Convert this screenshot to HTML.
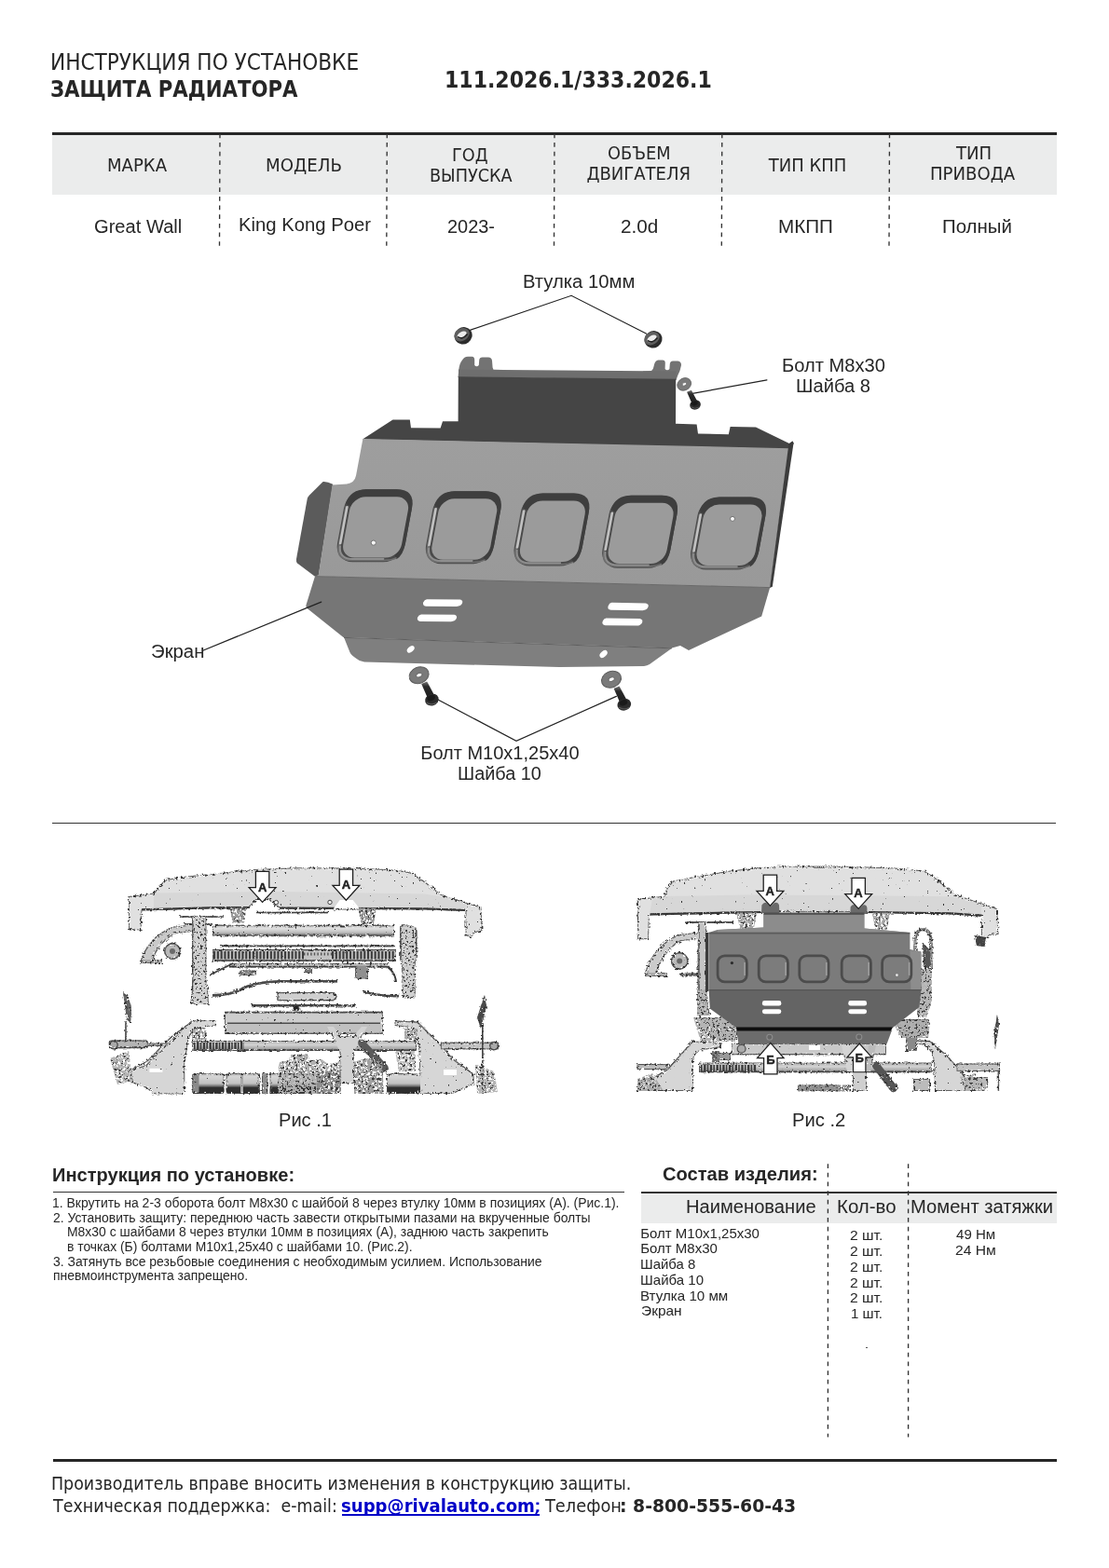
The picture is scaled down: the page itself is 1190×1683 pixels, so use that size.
<!DOCTYPE html>
<html lang="ru"><head><meta charset="utf-8"><title>Инструкция по установке — Защита радиатора 111.2026.1/333.2026.1</title>
<style>
html,body{margin:0;padding:0;background:#fff}
body{width:1190px;height:1683px;position:relative;overflow:hidden;color:#262626;font-family:"Liberation Sans","DejaVu Sans",sans-serif;will-change:transform}
.x{position:absolute;white-space:nowrap;transform-origin:0 50%;display:block;margin:0;padding:0}
.t{font-family:"DejaVu Sans Condensed","DejaVu Sans","Liberation Sans",sans-serif;font-stretch:condensed}
.a{font-family:"Liberation Sans","DejaVu Sans",sans-serif}
a.lk{text-decoration:none}
.bx{position:absolute}

svg{position:absolute;left:0;top:0;overflow:visible}
</style></head><body>
<div class="bx" style="left:56px;top:142px;width:1077.5px;height:3px;background:#262626"></div>
<div class="bx" style="left:56px;top:145px;width:1077.5px;height:64px;background:#ebecec"></div>
<div class="bx" style="left:55.5px;top:882.5px;width:1077px;height:1.6px;background:#333"></div>
<div class="bx" style="left:57px;top:1279px;width:612.5px;height:1.3px;background:#333"></div>
<div class="bx" style="left:688px;top:1279.3px;width:445.5px;height:2px;background:#333"></div>
<div class="bx" style="left:688px;top:1281.3px;width:445.5px;height:31.3px;background:#ebecec"></div>
<div class="bx" style="left:929.3px;top:1445.5px;width:1.6px;height:1.6px;background:#555"></div>
<div class="bx" style="left:56.5px;top:1565.5px;width:1077px;height:3px;background:#262626"></div>
<div class="bx" style="left:367px;top:1625px;width:211.5px;height:1.6px;background:#0000c8"></div>
<svg width="1190" height="1683" viewBox="0 0 1190 1683" class="rules"><g fill="none" stroke="#333" stroke-width="1.35" stroke-dasharray="4.75 4.9"><path d="M236,143.4 L235.5,263.8"/><path d="M415.3,143.4 L414.8,263.8"/><path d="M595,143.4 L594.5,263.8"/><path d="M774.8,143.4 L774.3,263.8"/><path d="M954.5,143.4 L954.0,263.8"/><path d="M888.4,1249.2 V1542.6"/><path d="M974.6,1249.2 V1542.6"/></g></svg>
<svg width="1190" height="1683" viewBox="0 0 1190 1683" class="ill" aria-label="Экран — схема">
<defs>
  <linearGradient id="gFace" x1="0" y1="0" x2="0" y2="1"><stop offset="0" stop-color="#9e9e9e"/><stop offset="1" stop-color="#999"/></linearGradient>
  <g id="rec">
    <rect x="-36.5" y="-39" width="73" height="78" rx="20" ry="20" fill="#4a4a4a"/>
    <path d="M-16.5,-39 H16.5 Q36.5,-39 36.5,-19 V19 Q36.5,32 30,36 L27,31 Q31.5,27 31.5,20 V-16 Q31.5,-30.5 17.5,-30.5 H-14.5 Q-26,-30.5 -28.2,-20 L-35.6,-24 Q-33,-39 -16.5,-39Z" fill="#3e3e3e"/>
    <path d="M-34.6,-21 V21 Q-34.6,37 -17,37.2 H17 Q25,37.2 30,34.6" fill="none" stroke="#6e6e6e" stroke-width="1.6"/>
    <path d="M-33.3,-20 V19" fill="none" stroke="#c2c2c2" stroke-width="2.6" stroke-linecap="round"/>
    <path d="M-33,22 Q-32,35.6 -17,35.8 H16" fill="none" stroke="#8e8e8e" stroke-width="2" stroke-linecap="round"/>
    <rect x="-30" y="-31" width="62.8" height="65.4" rx="14.5" ry="14.5" fill="#9b9b9b"/>
  </g>
  <radialGradient id="gBush" cx="0.5" cy="0.5" r="0.5"><stop offset="0.55" stop-color="#2a2a2a"/><stop offset="0.85" stop-color="#3a3a3a"/><stop offset="1" stop-color="#555"/></radialGradient>
  <linearGradient id="gShaft" x1="0" y1="0" x2="0" y2="1"><stop offset="0" stop-color="#777"/><stop offset="0.3" stop-color="#2a2a2a"/><stop offset="1" stop-color="#1c1c1c"/></linearGradient>
  <g id="wash">
    <ellipse cx="0" cy="0" rx="10.8" ry="8.6" fill="#7a7a7a" stroke="#5c5c5c" stroke-width="1" transform="rotate(-22)"/>
    <ellipse cx="0.2" cy="0" rx="3.3" ry="2.1" fill="#fafafa" stroke="#666" stroke-width="0.9" transform="rotate(-22)"/>
  </g>
  <g id="bolt">
    <path d="M2.6,9.4 L8.6,7 L16.6,22 L9.4,25Z" fill="url(#gShaft)"/>
    <ellipse cx="13.8" cy="26.6" rx="7.4" ry="6.3" fill="#2b2b2b" transform="rotate(-20 13.8 26.6)"/>
    <ellipse cx="13" cy="24.6" rx="4.4" ry="3" fill="#1a1a1a" transform="rotate(-20 13 24.6)"/>
    <path d="M8,29.4 Q13,33.2 19.4,29.6" stroke="#555" stroke-width="1.2" fill="none"/>
  </g>
  <g id="bush">
    <ellipse cx="0.3" cy="0.6" rx="9.7" ry="9" fill="#2c2c2c" transform="rotate(-35)"/>
    <ellipse cx="-0.6" cy="-1.2" rx="8.6" ry="6.6" fill="#5e5e5e" transform="rotate(-30)"/>
    <ellipse cx="-0.6" cy="-0.9" rx="5.6" ry="3.3" fill="#ececec" transform="rotate(-30)"/>
    <path d="M-5.6,1.4 Q-1,5.4 5,-1.6" stroke="#222" stroke-width="1.6" fill="none"/>
  </g>
</defs>
<!-- ears -->
<g fill="#737373">
  <path d="M491.5,405 L492.3,397 Q493,390 496,386.5 Q498,383 502,382.8 L506.5,382.8 Q509.2,383 509.2,386 L509.2,392 Q511.5,394.5 513.8,392 L514.2,386.5 Q514.5,383.4 517.5,383.4 L524,383.4 Q527.5,383.6 528,387 L528.6,394.5 L529.5,396.8 L540,397 L540,405Z"/>
  <path d="M690,398.5 L699,398 Q701,397 701.6,393 Q702.5,387.5 706,386.6 L711,386.6 Q713.8,386.8 713.8,389.5 L713.6,396 Q716,398.5 718.4,396 L718.8,390.5 Q719.3,387.4 722,387.4 L727.5,387.5 Q731.2,388 731,392 L729.5,398 Q727,403 725.5,408 L690,407Z"/>
</g>
<!-- top flange strip -->
<path d="M492,396.6 L725.6,398.6 L725.4,407.4 L492,404.8Z" fill="#6e6e6e"/>
<!-- dark upper panel + shelf -->
<path d="M491.8,404.2 L725.2,406.8 L725,454.8 L747.6,455.6 L749,465.6 L781.8,466.2 L783.6,458 L811,458.6 L847,476 L850.5,473.6 L852,476 L846,482 L389,471.6 L421.5,450.6 L439.8,450.4 L441,459.2 L472.6,459.4 L475,452.2 L491.6,452.2Z" fill="#454545"/>
<!-- left flange -->
<path d="M346.6,517 Q351,516.6 357.2,519.8 L341.8,618 L337.6,618.6 L319,604.6 Q317.6,603 318,600 L329.6,536 Q330.2,533.4 332,531.6Z" fill="#5b5b5b"/>
<!-- main face -->
<path d="M389.4,471 L846.4,481.2 L826.4,630.6 L338.4,618.6 L341.8,617 L356.6,520.6 L372,519.4 Q380.4,518.6 382,510.6Z" fill="url(#gFace)"/>
<!-- right thin edge -->
<path d="M846.4,476.4 L850.4,473.4 L851.4,476.6 L828.8,629.8 L826,631 Z" fill="#3c3c3c"/>
<!-- lower panel -->
<path d="M338,618.6 L826.2,630.4 L817.2,661.4 L739,698 L730,693 L721,695.6 L368.4,684 L329.6,653 Q327.8,651.4 328.6,649Z" fill="#767676"/>
<!-- bottom flange -->
<path d="M369.2,684.6 L721,695.8 L697,713 Q694.4,714.8 691,714.9 L600,716 L391,710.6 Q386,710.2 382.6,707 Q376.4,703 375.4,700Z" fill="#7f7f7f"/>
<path d="M369,684.4 L721,695.8" stroke="#5e5e5e" stroke-width="1" fill="none"/>
<path d="M338.2,618.6 L826.2,630.6" stroke="#6a6a6a" stroke-width="1" fill="none"/>
<!-- recesses -->
<g>
  <use href="#rec" transform="translate(402,564.2) skewX(-10.5)"/>
  <use href="#rec" transform="translate(497.2,566.3) skewX(-10.5)"/>
  <use href="#rec" transform="translate(591.8,568.5) skewX(-10.5)"/>
  <use href="#rec" transform="translate(686.5,570.7) skewX(-10.5)"/>
  <use href="#rec" transform="translate(781.4,572.5) skewX(-10.5)"/>
</g>
<circle cx="400.8" cy="582.6" r="2.6" fill="#f6f6f6" stroke="#6a6a6a" stroke-width="0.9"/>
<circle cx="786" cy="556.9" r="2.5" fill="#f6f6f6" stroke="#6a6a6a" stroke-width="0.9"/>
<!-- slots -->
<g fill="#fff">
  <path d="M458,643.2 L493.6,643.6 Q497.2,644.4 496,647.6 Q494.4,650.8 490,651 L457,650.8 Q453,650 454.2,646.6 Q455.4,643.6 458,643.2Z"/>
  <path d="M452,659.4 L487.4,659.8 Q491,660.6 489.8,663.8 Q488.2,667 484,667.2 L451,667 Q447,666.2 448,662.8 Q449.4,659.8 452,659.4Z"/>
  <path d="M656.4,646.8 L693,647.6 Q696.8,648.6 695.4,651.8 Q693.8,655 689.6,655.2 L655.6,654.8 Q651.4,654 652.6,650.4 Q653.8,647.2 656.4,646.8Z"/>
  <path d="M650.4,663.4 L686.6,664 Q690.4,665 689,668.4 Q687.4,671.4 683.2,671.6 L649.6,671.2 Q645.4,670.4 646.6,667 Q647.8,663.8 650.4,663.4Z"/>
  <ellipse cx="440.7" cy="696.9" rx="4.6" ry="2.9" transform="rotate(-42 440.7 696.9)"/>
  <ellipse cx="647.6" cy="702" rx="4.8" ry="3" transform="rotate(-42 647.6 702)"/>
</g>
<!-- callout lines -->
<g stroke="#222" stroke-width="1.2" fill="none" stroke-linecap="round">
  <path d="M504.3,354.4 L613.1,317.3 L693.8,358.2"/>
  <path d="M741.6,422.6 L822.9,407.9"/>
  <path d="M217.7,698.2 L344.7,646.1"/>
  <path d="M458.6,745 L554,795.3 L661.4,747.4"/>
</g>
<!-- bushings -->
<use href="#bush" transform="translate(496.6,360)"/>
<use href="#bush" transform="translate(700.5,364)"/>
<!-- washers & bolts -->
<g transform="translate(734.2,412.4) scale(0.72)"><use href="#wash" transform="scale(0.98,1.06)"/></g>
<use href="#bolt" transform="translate(735,413.2) scale(0.8)"/>
<use href="#wash" transform="translate(449.6,724.7)"/>
<use href="#bolt" transform="translate(449.6,724.5)"/>
<use href="#wash" transform="translate(656,729.2)"/>
<use href="#bolt" transform="translate(656,729.6)"/>
</svg>

<svg width="1190" height="1683" viewBox="0 0 1190 1683" class="ill" aria-label="Рис. 1">
<defs>
  <filter id="grain" x="100" y="920" width="1000" height="270" filterUnits="userSpaceOnUse" color-interpolation-filters="sRGB">
    <feTurbulence type="fractalNoise" baseFrequency="0.36" numOctaves="2" seed="7" result="n"/>
    <feColorMatrix in="n" type="matrix" values="0 0 0 0 0  0 0 0 0 0  0 0 0 0 0  22 0 0 0 -16.6" result="mS"/>
    <feColorMatrix in="n" type="matrix" values="0 0 0 0 0  0 0 0 0 0  0 0 0 0 0  0 18 0 0 -10.8" result="mD"/>
    <feColorMatrix in="n" type="matrix" values="0 0 0 0 0  0 0 0 0 0  0 0 0 0 0  0 0 -18 0 7.0" result="mH"/>
    <feColorMatrix in="n" type="matrix" values="0 0 0 0 0  0 0 0 0 0  0 0 0 0 0  -9 -9 0 0 9.4" result="mE"/>
    <feMorphology in="SourceAlpha" operator="dilate" radius="1.2" result="fat"/>
    <feMorphology in="SourceAlpha" operator="erode" radius="1.8" result="thin"/>
    <feMorphology in="SourceAlpha" operator="erode" radius="0.9" result="thin1"/>
    <feComposite in="fat" in2="thin" operator="out" result="band"/>
    <feComposite in="SourceAlpha" in2="thin1" operator="out" result="edge"/>
    <feFlood flood-color="#333" result="dk"/>
    <feFlood flood-color="#4a4a4a" flood-opacity="0.85" result="dk2"/>
    <feComposite in="dk" in2="mS" operator="in" result="d0"/>
    <feComposite in="d0" in2="SourceAlpha" operator="in" result="dotsA"/>
    <feComposite in="dk" in2="mD" operator="in" result="d1"/>
    <feComposite in="d1" in2="band" operator="in" result="dotsB"/>
    <feComposite in="dk2" in2="mE" operator="in" result="e1"/>
    <feComposite in="e1" in2="edge" operator="in" result="dotsE"/>
    <feComposite in="mH" in2="band" operator="in" result="hm"/>
    <feComposite in="SourceGraphic" in2="hm" operator="out" result="holed"/>
    <feMerge><feMergeNode in="holed"/><feMergeNode in="dotsE"/><feMergeNode in="dotsA"/><feMergeNode in="dotsB"/></feMerge>
  </filter>
  <filter id="grain2" x="100" y="920" width="1000" height="270" filterUnits="userSpaceOnUse" color-interpolation-filters="sRGB">
    <feTurbulence type="fractalNoise" baseFrequency="0.4" numOctaves="2" seed="23" result="n"/>
    <feColorMatrix in="n" type="matrix" values="0 0 0 0 0  0 0 0 0 0  0 0 0 0 0  0 16 0 0 -9.7" result="mD"/>
    <feColorMatrix in="n" type="matrix" values="0 0 0 0 0  0 0 0 0 0  0 0 0 0 0  0 0 -16 0 7.4" result="mH"/>
    <feFlood flood-color="#3a3a3a" result="dk"/>
    <feComposite in="dk" in2="mD" operator="in" result="d1"/>
    <feComposite in="d1" in2="SourceAlpha" operator="in" result="dots"/>
    <feComposite in="SourceGraphic" in2="mH" operator="out" result="holed"/>
    <feMerge><feMergeNode in="holed"/><feMergeNode in="dots"/></feMerge>
  </filter>
  <linearGradient id="cyl" x1="0" y1="0" x2="0" y2="1"><stop offset="0" stop-color="#c4c4c4"/><stop offset="0.3" stop-color="#e0e0e0"/><stop offset="0.7" stop-color="#bcbcbc"/><stop offset="0.86" stop-color="#8a8a8a"/><stop offset="1" stop-color="#3c3c3c"/></linearGradient>
  <linearGradient id="cylb" x1="0" y1="0" x2="0" y2="1"><stop offset="0" stop-color="#9a9a9a"/><stop offset="0.14" stop-color="#d6d6d6"/><stop offset="0.5" stop-color="#c2c2c2"/><stop offset="0.62" stop-color="#777"/><stop offset="0.7" stop-color="#303030"/><stop offset="1" stop-color="#2c2c2c"/></linearGradient>
  <linearGradient id="rod" x1="0" y1="0" x2="0" y2="1"><stop offset="0" stop-color="#aaa"/><stop offset="0.4" stop-color="#d4d4d4"/><stop offset="0.8" stop-color="#a4a4a4"/><stop offset="1" stop-color="#555"/></linearGradient>
  <g id="arrD">
    <path d="M-7.2,-16.6 H7.2 V0.6 H14.4 L0,16.4 L-14.4,0.6 H-7.2Z" fill="#fff" stroke="#1e1e1e" stroke-width="1.3" stroke-linejoin="miter"/>
  </g>
</defs>
<g filter="url(#grain)">
  <!-- bumper -->
  <path d="M138,962 L150,960.5 L165,958.5 L171,950 L178,944 L200,940.5 L240,936.5 L272,933 L320,931.2 L380,931.6 L425,933.5 L441,936.5 L455,945.5 L473,959.5 L485,964 L500,968.5 L516.5,973.5 L517.5,999 L509,1001.5 L506,1006 L499.5,1005 L499.5,977 L455,975.2 L300,974.6 L295,972 L289,966 L275,966 L268,973.5 L225,974 L165,975.5 L152.5,977 L151.5,999 L138,997 Z" fill="#e0e0e0"/>
  <path d="M165,958.5 L300,957 L455,959.5 L485,964 L500,968.5 L499.5,977 L455,975.2 L300,974.6 L295,972 L289,966 L275,966 L268,973.5 L225,974 L165,975.5Z" fill="#d7d7d7"/>
  <path d="M152,976.4 L225,974.4 L268,974 M300,974.6 L455,975.4 L499,977" stroke="#333" stroke-width="2.2" fill="none"/>
  <path d="M357,976.4 L364.6,966 L378.6,966 L387,976.4Z" fill="#fff"/>
  <circle cx="296.4" cy="968.6" r="2.2" fill="#eee" stroke="#444" stroke-width="1"/>
  <circle cx="354" cy="968.4" r="2.2" fill="#eee" stroke="#444" stroke-width="1"/>
  <!-- mounts under bumper -->
  <path d="M275,979.6 H352" stroke="#3c3c3c" stroke-width="1.5"/>
  <path d="M193,984 H240" stroke="#555" stroke-width="1.6"/>
  <!-- pipe -->
  <rect x="228" y="993.4" width="195" height="11" fill="url(#cyl)"/><path d="M232,993.4 H423 M236,1004.6 H420" stroke="#666" stroke-width="1.1" stroke-dasharray="9 4 3 5" fill="none"/>
  <path d="M198,992 H228" stroke="#666" stroke-width="2"/>
  <!-- brackets -->
  <path d="M206,984 H221 V1050 L223,1062 L224,1078 H204 L206,1062Z" fill="#cdcdcd"/>
  <path d="M207,986 V1076 M220.6,986 V1050" stroke="#555" stroke-width="1.4" fill="none"/>
  <path d="M429,994 Q438,990 447,996 V1024 L445,1040 L446,1070 H432 L431,1040Z" fill="#c4c4c4"/>
  <path d="M430,996 V1030 M446.6,998 V1024" stroke="#4a4a4a" stroke-width="1.6" fill="none"/>
  <!-- left curved arm -->
  <path d="M151,1030 Q160,1004 186,994.5 L206,992.5 L206,1000 L189,1002 Q171,1010 163,1033Z" fill="#c9c9c9"/>
  <path d="M151,1030 H174 V1034 H151Z" fill="#aaa"/>
  <circle cx="185" cy="1021" r="8.2" fill="#b9b9b9" stroke="#666" stroke-width="1.4"/>
  <circle cx="185" cy="1021" r="3" fill="#6a6a6a"/>
  <!-- radiator label band -->
  <path d="M236,1015.4 H424" stroke="#4a4a4a" stroke-width="1.6"/>
  <rect x="228" y="1019.4" width="197" height="11.6" fill="#c4c4c4"/><path d="M229,1025.2 H326 M356,1025.2 H424" stroke="#3c3c3c" stroke-width="8.6" stroke-dasharray="2.1 1.7" fill="none"/><path d="M326,1024 H356" stroke="#555" stroke-width="3" stroke-dasharray="1.4 2.2" fill="none"/>
  <path d="M228,1019.6 H425 M228,1031 H425" stroke="#444" stroke-width="1.3" fill="none"/>
  <rect x="246" y="1034" width="170" height="3.6" fill="#c2c2c2"/>
  <path d="M246,1037.6 H418" stroke="#3c3c3c" stroke-width="1.6"/>
  <rect x="257" y="1041.6" width="18" height="5.4" rx="2" fill="#8a8a8a"/><rect x="327" y="1039" width="8" height="5" fill="#777"/>
  <rect x="381" y="1037" width="14" height="14" rx="3" fill="#909090"/>
  <path d="M226,1046 L250,1034" stroke="#444" stroke-width="1.6"/>
  <path d="M416,1038 Q424,1044 425,1054" stroke="#333" stroke-width="1.8" fill="none"/>
  <!-- hoses -->
  <path d="M228,1068.4 Q250,1068 260,1061 Q272,1054.5 300,1053.2 H362" stroke="#4a4a4a" stroke-width="2.6" fill="none"/>
  <path d="M298,1065.6 H358 Q364,1069.6 358,1073.6 H298Z" fill="#cfcfcf" stroke="#666" stroke-width="1.2"/>
  <path d="M270,1079.2 H382" stroke="#4a4a4a" stroke-width="2.4"/><ellipse cx="318" cy="1082.4" rx="3.4" ry="2.8" fill="#222"/>
  <path d="M390,1064.4 Q410,1070 428,1069" stroke="#4a4a4a" stroke-width="2.4" fill="none"/>
  <!-- crossmember -->
  <rect x="241" y="1086" width="170" height="23.4" fill="#cdcdcd"/>
  <path d="M241,1086.6 H411 M244,1098.4 H408 M241,1109 H411" stroke="#4c4c4c" stroke-width="1.6" fill="none"/>
  <rect x="243" y="1099" width="166" height="9.6" fill="#c0c0c0"/>
  <!-- lower arms -->
  <path d="M140.4,1148.4 L156.6,1143 L164.2,1134.2 L178,1121.6 L205.8,1095.2 L231,1095 L232.3,1100.4 L212,1103.6 Q204,1108 202,1117.8 L198.2,1143 L198.4,1174.4 L164.2,1174.2 Q158,1167.6 151.6,1165.8 L140.4,1162Z" fill="#d6d6d6"/>
  <path d="M423.5,1096 L448,1097.2 L467.8,1116.6 L486.4,1137 L508.6,1153.6 L508.6,1163 L486.4,1174 L451.2,1174 L449.4,1127.6 Q448,1108 440,1103 L423.5,1101Z" fill="#d6d6d6"/>
  <path d="M141.5,1148 L158,1139 L184,1113 L206,1096.4 M423.5,1096 L448,1097.2 L467.8,1116.6 L486.4,1137 L508.6,1153.6" stroke="#777" stroke-width="1.2" fill="none"/>
  <rect x="160.4" y="1146.8" width="14" height="4" fill="#fff"/>
  <rect x="476" y="1148" width="14" height="6" fill="#fff"/>
  <!-- rods -->
  <rect x="206" y="1117" width="241" height="10.8" fill="url(#rod)"/><path d="M208,1122.6 H262" stroke="#3a3a3a" stroke-width="7" stroke-dasharray="1.6 1.5 2.4 1.2" fill="none"/><path d="M208,1127.2 H446" stroke="#444" stroke-width="1.6" stroke-dasharray="14 3 6 2" fill="none"/>
  <rect x="117.4" y="1117" width="41" height="7.6" rx="2" fill="#b4b4b4" stroke="#555" stroke-width="1.2"/><rect x="158" y="1119.6" width="22" height="3.4" fill="#999"/>
  <circle cx="122" cy="1121.6" r="4.2" fill="#aaa" stroke="#444" stroke-width="1.2"/>
  <rect x="473.4" y="1119.2" width="61" height="6.6" fill="#c4c4c4" stroke="#666" stroke-width="1"/>
  <circle cx="530" cy="1122.6" r="4.2" fill="#aaa" stroke="#444" stroke-width="1.2"/>
  <!-- mid bracket + hose -->
  <path d="M351,1102 L358,1102 L365,1112 H379.4 L388,1102 L394,1102 L380,1128 V1163 H364.4 V1128Z" fill="#d2d2d2"/>
  <path d="M388.4,1120 L412.4,1146" stroke="#5a5a5a" stroke-width="8" stroke-linecap="round"/>
  <!-- bottom row -->
  <rect x="206.5" y="1152" width="34" height="22" rx="3" fill="url(#cylb)"/>
  <rect x="206.5" y="1153" width="7" height="20" fill="#8a8a8a"/>
  <rect x="242.6" y="1152" width="36" height="22" rx="3" fill="url(#cylb)"/>
  <rect x="258" y="1154" width="3" height="19" fill="#aaa"/>
  <rect x="281" y="1152" width="6.4" height="22" fill="#909090"/>
  <rect x="289.6" y="1152" width="52" height="22" fill="url(#cylb)"/>
  <rect x="415" y="1152" width="36" height="22" rx="3" fill="url(#cylb)"/>
  <!-- sides -->
  <path d="M132,1065 Q140,1070 141,1084 L140,1098 L136,1094 Z" fill="#666"/>
  <path d="M135,1096 V1116" stroke="#555" stroke-width="1.4"/>
  <path d="M520,1068 L522,1080 L516,1104 L512,1092Z" fill="#4a4a4a"/>
  <path d="M517.8,1098 V1174" stroke="#444" stroke-width="1.6"/>
</g>
<g filter="url(#grain2)">
  <path d="M298,1150 L300,1140 L310,1138 L312,1132 L330,1131 L332,1138 L345,1137 L352,1142 L364,1140 V1174 H298Z" fill="#b0b0b0"/>
  <path d="M380,1140 L392,1136 L410,1140 L412,1174 H380Z" fill="#a0a0a0"/>
  <path d="M340,1150 H366 V1174 H340Z" fill="#8c8c8c"/>
  <path d="M246.6,974.6 H264.4 L262,990.6 H249.6Z" fill="#9a9a9a"/>
  <path d="M384.4,974.6 H404 L401,992 H388Z" fill="#9a9a9a"/>
  <path d="M207.4,984 H220.6 V1046 L222,1060 L222,1076 H206 L207.4,1060Z" fill="#d0d0d0"/>
  <path d="M430.4,996 Q438,991 446,996 V1024 L444.4,1040 L445.6,1072 H433 L432,1040Z" fill="#d0d0d0"/>
  <path d="M118,1136 L138,1128 L142,1160 L126,1164Z" fill="#b4b4b4"/>
  <path d="M510,1142 L530,1150 L534,1172 L512,1174Z" fill="#b4b4b4"/>
  <path d="M434,1104 H448 V1116 H434Z M206,1104 H222 V1116 H206Z" fill="#aaa"/>
  <path d="M424,1128 H446 V1150 H428Z" fill="#bdbdbd"/>
</g>
<!-- arrows -->
<use href="#arrD" transform="translate(281.6,952)"/>
<use href="#arrD" transform="translate(371.4,949.8)"/>
<text x="281.6" y="957.4" text-anchor="middle" font-family="'Liberation Sans','DejaVu Sans',sans-serif" font-weight="700" font-size="13" fill="#222" stroke="#222" stroke-width="0.45">А</text>
<text x="371.4" y="954.4" text-anchor="middle" font-family="'Liberation Sans','DejaVu Sans',sans-serif" font-weight="700" font-size="13" fill="#222" stroke="#222" stroke-width="0.45">А</text>
</svg>

<svg width="1190" height="1683" viewBox="0 0 1190 1683" class="ill" aria-label="Рис. 2">
<defs>
  <g id="arrU">
    <path d="M-7.2,16.8 H7.2 V-0.4 H14.2 L0,-16.6 L-14.2,-0.4 H-7.2Z" fill="#fff" stroke="#1e1e1e" stroke-width="1.3" stroke-linejoin="miter"/>
  </g>
  <g id="rc2">
    <rect x="-15.6" y="-14" width="31.2" height="28" rx="7.5" ry="7.5" fill="#7c7c7c" stroke="#4c4c4c" stroke-width="2.8"/><path d="M13.4,-7 V7" stroke="#a4a4a4" stroke-width="1.4" fill="none"/>
  </g>
</defs>
<g filter="url(#grain)">
  <!-- bumper -->
  <path d="M684,965.5 L700,963 L712,962 L716,952 L722,945.5 L745,941 L780,935 L810,931.5 L836,929.8 L900,929.6 L960,931.5 L992,934.4 L1005,943 L1023,958.4 L1040,965 L1070,975 L1071.6,1003 L1062,1004 L1060,1007 L1053,1006 L1053,982.4 L1020,980 L960,979 L940,979.2 L936,978.6 L912,978.6 L836,978.6 L812,978.6 L780,979.4 L720,980.4 L697,981.6 L696,1008 L684,1008.4 Z" fill="#e0e0e0"/>
  <path d="M712,962 L800,960.6 L900,961 L1000,962 L1023,962.4 L1040,966.5 L1053,971 L1053,982.4 L1020,980 L960,979 L812,978.6 L780,979.4 L720,980.4 L697,981.6 L700,964Z" fill="#d7d7d7"/>
  <path d="M697,981.4 L780,979.6 L818,979 M930,979 L1020,980.4 L1053,982.6" stroke="#333" stroke-width="2.2" fill="none"/>
  <!-- mounts -->
  <path d="M735,990 H786" stroke="#555" stroke-width="1.8"/>
  <!-- left bracket + arm -->
  <path d="M749,990 H758 V1070 L762,1090 H748Z" fill="#c4c4c4"/>
  <path d="M750,992 V1088" stroke="#555" stroke-width="1.4"/>
  <path d="M692,1043 Q702,1014 728,1003 L750,1000.6 L750,1008 L731,1010 Q712,1020 704,1046Z" fill="#cbcbcb"/>
  <path d="M692,1044 H716 V1048 H692Z" fill="#aaa"/>
  <circle cx="729.2" cy="1031.4" r="8.6" fill="#b9b9b9" stroke="#666" stroke-width="1.4"/>
  <circle cx="729.2" cy="1031.4" r="3" fill="#6a6a6a"/>
  <path d="M730,1046 H752" stroke="#777" stroke-width="3"/>
  <!-- right ring bracket -->
  <path d="M982,1040 V1008 Q983,997.6 990.4,997.6 Q998.6,998 999,1010 V1040" fill="none" stroke="#9a9a9a" stroke-width="3.2"/>
  <path d="M990,1012 L998,1020 L999,1042 L991,1036Z" fill="#555"/>
  <path d="M988,1040 H999 V1075 L992,1090 H984Z" fill="#bdbdbd"/>
  <path d="M1046,1004 L1058,1006 L1056,1016 L1048,1015Z" fill="#444"/>
  <!-- lower arms -->
  <path d="M744,1117.4 L773.5,1119 L773.5,1124.2 L751.4,1127.6 Q745,1131 744,1138.8 L744,1171 L684,1171 L684,1161 L688.6,1159 L703.4,1155.4 L716.2,1148 L731,1131.4Z" fill="#d6d6d6"/>
  <path d="M684,1142.6 H716 V1147.6 H684Z" fill="#bdbdbd" stroke="#666" stroke-width="1"/>
  <path d="M975.4,1116.6 L997.6,1117.6 L1016,1133.2 L1030.8,1149.8 L1043.8,1168.4 L1045.6,1171 L1003,1171 L1002.2,1142.4 Q1001,1131 997.6,1127.6 Q994,1122 988.4,1121.2 L975.4,1120.4Z" fill="#d6d6d6"/>
  <path d="M975.4,1116.6 L997.6,1117.6 L1016,1133.2 L1030.8,1149.8 L1043.8,1168.4 M744,1117.4 L731,1131.4 L716.2,1148 L703.4,1155.4" stroke="#777" stroke-width="1.2" fill="none"/>
  <path d="M760,1106 H790 V1116 H764Z" fill="#aaa"/>
  <path d="M748,1092 H786 L790,1104 H750Z" fill="#b4b4b4"/>
  <path d="M960,1094 H996 L994,1112 H968Z" fill="#a8a8a8"/>
  <path d="M972,1112 H984 V1128 H972Z" fill="#8a8a8a"/>
  <!-- crossmember under plate -->
  <rect x="785" y="1120" width="166" height="11.4" fill="#c9c9c9"/>
  <circle cx="795.6" cy="1125.8" r="4.4" fill="#aaa" stroke="#555" stroke-width="1.3"/>
  <rect x="868" y="1122" width="12" height="5" fill="#fff"/>
  <path d="M785,1131.6 H951" stroke="#777" stroke-width="1.2"/>
  <path d="M762,1130 H784 V1138 H768Z" fill="#999"/>
  <!-- rod -->
  <rect x="750" y="1140.6" width="250" height="10.4" fill="url(#rod)"/><path d="M752,1146.6 H812" stroke="#3a3a3a" stroke-width="7" stroke-dasharray="1.6 1.5 2.4 1.2" fill="none"/><path d="M752,1150.4 H998" stroke="#444" stroke-width="1.6" stroke-dasharray="14 3 6 2" fill="none"/>
  <rect x="1027" y="1142" width="45.4" height="7.4" fill="#c4c4c4" stroke="#666" stroke-width="1"/>
  <path d="M940.3,1144 L958.7,1168" stroke="#555" stroke-width="8.4" stroke-linecap="round"/>
  <rect x="915" y="1151" width="15" height="20" fill="#cfcfcf"/>
  <path d="M903,1122 L912,1122 L917,1150 L909,1150Z" fill="#d4d4d4"/>
  <path d="M940,1122 L932,1122 L928,1150 L934,1150Z" fill="#bbb"/>
  <rect x="856" y="1164.4" width="44" height="6.6" fill="#999"/>
  <rect x="980" y="1158" width="18" height="13" fill="#bbb"/>
  <rect x="1040" y="1156" width="20" height="12" fill="#bbb"/>
  <path d="M1070,1089 L1072,1100 L1068,1126 L1066.6,1110Z" fill="#555"/>
  <path d="M1071.4,1150 V1171" stroke="#666" stroke-width="1.4"/>
</g>
<g filter="url(#grain2)">
  <path d="M790,979.6 H812 L808.6,998.6 H794.6Z" fill="#a8a8a8"/>
  <path d="M935.6,979.6 H955 L951.6,998 H939.6Z" fill="#a8a8a8"/>
  <path d="M749,1062 H759 L760,1090 H748Z" fill="#b0b0b0"/>
  <path d="M744,1092 H790 L796,1106 L788,1118 H752Z" fill="#b4b4b4"/>
  <path d="M958,1096 H998 L996,1114 H966Z" fill="#b0b0b0"/>
  <path d="M856.4,1164.6 H913 V1171.4 H856.4Z" fill="#909090"/>
  <path d="M684,1158 L700,1152 L712,1171 H684Z" fill="#aaa"/><path d="M1030,1156 L1046,1152 L1060,1171 H1036Z" fill="#b4b4b4"/><path d="M764,1128 H772 V1140 H764Z" fill="#777"/>
  <path d="M984,1040 H1000 V1074 L994,1092 H985Z" fill="#b4b4b4"/>
</g>
<!-- plate -->
<g>
  <path d="M817,980 L817.4,971.6 Q820,967.6 823,969.4 L826.6,973 L831,969 Q835,967.6 836,971.6 L836.4,980Z" fill="#6a6a6a"/>
  <path d="M912.4,981 L912.6,973.6 Q915,970 918,971.6 L921.6,975.6 L926,971.6 Q929.6,970 930.4,974 L930.6,981Z" fill="#6a6a6a"/>
  <path d="M819.4,980.4 H927.4 V996.4 L973.6,1000.8 L976.4,1001.4 V1019 L988.4,1021.4 V1063 H760.6 V1001 L769.8,998 L819.4,995.4Z" fill="#7b7b7b"/>
  <path d="M819.4,981.6 H927.4 V996.4 L940,997.6 L973.6,1000.8 H769.8 V998 L819.4,995.4Z" fill="#8c8c8c"/>
  <path d="M819.4,980.6 H927.4" stroke="#4e4e4e" stroke-width="2.4"/>
  <path d="M760.6,1001.6 H976.4" stroke="#5c5c5c" stroke-width="1.6"/>
  <path d="M976.4,1020 L988.4,1021.6 V1063 H977.4Z" fill="#8d8d8d"/>
  <path d="M758.6,1001 V1064" stroke="#3c3c3c" stroke-width="3.4"/>
  <use href="#rc2" transform="translate(785.7,1039.9)"/>
  <use href="#rc2" transform="translate(829.8,1039.9)"/>
  <use href="#rc2" transform="translate(873.4,1039.9)"/>
  <use href="#rc2" transform="translate(918.8,1039.9)"/>
  <use href="#rc2" transform="translate(962.2,1039.9)"/>
  <circle cx="785.4" cy="1033.6" r="1.6" fill="#2a2a2a"/>
  <circle cx="962.4" cy="1046.6" r="1.3" fill="#eee"/>
  <path d="M760.6,1062.6 H988.4 L986.4,1081 L958,1103 H790 L761.8,1082.6Z" fill="#646464"/>
  <path d="M760.6,1062.6 H988.4" stroke="#555" stroke-width="1.4"/>
  <g fill="#fff">
    <rect x="817.9" y="1074" width="20.4" height="5.6" rx="2.4"/>
    <rect x="817.9" y="1083.2" width="20.4" height="5" rx="2.4"/>
    <rect x="910.3" y="1074" width="19.8" height="5.6" rx="2.4"/>
    <rect x="910.3" y="1083.2" width="19.8" height="5" rx="2.4"/>
  </g>
  <path d="M790,1106 H957 L951.6,1120.4 H792.6Z" fill="#6c6c6c"/>
  <path d="M790,1102.4 H958 L956,1106.6 H790.6Z" fill="#0e0e0e"/>
  <circle cx="825.8" cy="1113.2" r="3" fill="#666" stroke="#8c8c8c" stroke-width="1.1"/>
  <circle cx="921.8" cy="1113" r="3" fill="#666" stroke="#8c8c8c" stroke-width="1.1"/>
</g>
<!-- arrows -->
<use href="#arrD" transform="translate(826.4,955.8)"/>
<use href="#arrD" transform="translate(921.2,959)"/>
<use href="#arrU" transform="translate(826.8,1136)"/>
<use href="#arrU" transform="translate(922.2,1135.3) scale(0.93,0.92)"/>
<g font-family="'Liberation Sans','DejaVu Sans',sans-serif" font-weight="700" font-size="13" fill="#222" stroke="#222" stroke-width="0.45" text-anchor="middle">
  <text x="826.3" y="961.4">А</text>
  <text x="921" y="962.6">А</text>
  <text x="826.8" y="1141.6">Б</text>
  <text x="922.2" y="1140.2">Б</text>
</g>
</svg>

<span class="x t hd" style="left:54.40px;top:53px;font-size:24px;line-height:28px;transform:scaleX(1.0027);">ИНСТРУКЦИЯ ПО УСТАНОВКЕ</span>
<span class="x t hd" style="left:54.02px;top:82px;font-size:24px;line-height:28px;font-weight:700;transform:scaleX(0.9838);">ЗАЩИТА РАДИАТОРА</span>
<span class="x t hd" style="left:477.16px;top:72px;font-size:24px;line-height:28px;font-weight:700;transform:scaleX(1.0202);">111.2026.1/333.2026.1</span>
<span class="x t th" style="left:114.90px;top:165px;font-size:20px;line-height:24px;transform:scaleX(1.0042);">МАРКА</span>
<span class="x t th" style="left:285.27px;top:165px;font-size:20px;line-height:24px;transform:scaleX(1.0115);">МОДЕЛЬ</span>
<span class="x t th" style="left:485.32px;top:154px;font-size:20px;line-height:24px;transform:scaleX(0.9858);">ГОД</span>
<span class="x t th" style="left:460.57px;top:176px;font-size:20px;line-height:24px;transform:scaleX(0.9800);">ВЫПУСКА</span>
<span class="x t th" style="left:652.01px;top:152px;font-size:20px;line-height:24px;transform:scaleX(0.9871);">ОБЪЕМ</span>
<span class="x t th" style="left:629.45px;top:174px;font-size:20px;line-height:24px;">ДВИГАТЕЛЯ</span>
<span class="x t th" style="left:824.75px;top:165px;font-size:20px;line-height:24px;">ТИП КПП</span>
<span class="x t th" style="left:1026.04px;top:152px;font-size:20px;line-height:24px;transform:scaleX(1.0053);">ТИП</span>
<span class="x t th" style="left:998.19px;top:174px;font-size:20px;line-height:24px;transform:scaleX(1.0045);">ПРИВОДА</span>
<span class="x a td" style="left:101.19px;top:232px;font-size:20px;line-height:22px;transform:scaleX(1.0062);">Great Wall</span>
<span class="x a td" style="left:256.43px;top:230px;font-size:20px;line-height:22px;transform:scaleX(1.0135);">King Kong Poer</span>
<span class="x a td" style="left:479.81px;top:232px;font-size:20px;line-height:22px;transform:scaleX(0.9958);">2023-</span>
<span class="x a td" style="left:665.57px;top:232px;font-size:20px;line-height:22px;transform:scaleX(1.0331);">2.0d</span>
<span class="x a td" style="left:835.37px;top:232px;font-size:20px;line-height:22px;transform:scaleX(1.0333);">МКПП</span>
<span class="x a td" style="left:1010.63px;top:232px;font-size:20px;line-height:22px;transform:scaleX(1.0212);">Полный</span>
<span class="x a lb" style="left:561.43px;top:291px;font-size:20px;line-height:22px;transform:scaleX(1.0116);">Втулка 10мм</span>
<span class="x a lb" style="left:838.85px;top:381px;font-size:20px;line-height:22px;transform:scaleX(1.0059);">Болт М8х30</span>
<span class="x a lb" style="left:854.34px;top:403px;font-size:20px;line-height:22px;transform:scaleX(1.0070);">Шайба 8</span>
<span class="x a lb" style="left:161.78px;top:688px;font-size:20px;line-height:22px;transform:scaleX(1.0183);">Экран</span>
<span class="x a lb" style="left:451.27px;top:797px;font-size:20px;line-height:22px;">Болт М10х1,25х40</span>
<span class="x a lb" style="left:491.37px;top:819px;font-size:20px;line-height:22px;transform:scaleX(0.9930);">Шайба 10</span>
<span class="x a lb" style="left:299.26px;top:1191px;font-size:20px;line-height:22px;transform:scaleX(1.0037);">Рис .1</span>
<span class="x a lb" style="left:849.64px;top:1191px;font-size:20px;line-height:22px;transform:scaleX(1.0098);">Рис .2</span>
<span class="x a h2" style="left:56.40px;top:1250px;font-size:20px;line-height:22px;font-weight:700;transform:scaleX(1.0034);">Инструкция по установке:</span>
<span class="x a in" style="left:56.40px;top:1283px;font-size:14px;line-height:16px;transform:scaleX(0.9971);">1. Вкрутить на 2-3 оборота болт М8х30 с шайбой 8 через втулку 10мм в позициях (А). (Рис.1).</span>
<span class="x a in" style="left:56.80px;top:1299px;font-size:14px;line-height:16px;transform:scaleX(0.9946);">2. Установить защиту: переднюю часть завести открытыми пазами на вкрученные болты</span>
<span class="x a in" style="left:71.80px;top:1314px;font-size:14px;line-height:16px;transform:scaleX(0.9954);">М8х30 с шайбами 8 через втулки 10мм в позициях (А), заднюю часть закрепить</span>
<span class="x a in" style="left:71.85px;top:1330px;font-size:14px;line-height:16px;transform:scaleX(0.9912);">в точках (Б) болтами М10х1,25х40 с шайбами 10. (Рис.2).</span>
<span class="x a in" style="left:56.79px;top:1346px;font-size:14px;line-height:16px;transform:scaleX(0.9957);">3. Затянуть все резьбовые соединения с необходимым усилием. Использование</span>
<span class="x a in" style="left:56.55px;top:1361px;font-size:14px;line-height:16px;transform:scaleX(0.9949);">пневмоинструмента запрещено.</span>
<span class="x a h2" style="left:711.14px;top:1249px;font-size:20px;line-height:22px;font-weight:700;transform:scaleX(1.0057);">Состав изделия:</span>
<span class="x a ch" style="left:735.65px;top:1284px;font-size:20px;line-height:22px;transform:scaleX(1.0071);">Наименование</span>
<span class="x a ch" style="left:898.49px;top:1284px;font-size:20px;line-height:22px;transform:scaleX(1.0233);">Кол-во</span>
<span class="x a ch" style="left:977.05px;top:1284px;font-size:20px;line-height:22px;transform:scaleX(1.0089);">Момент затяжки</span>
<span class="x a cn" style="left:687.22px;top:1315px;font-size:15px;line-height:17px;">Болт М10х1,25х30</span>
<span class="x a cn" style="left:687.23px;top:1331px;font-size:15px;line-height:17px;">Болт М8х30</span>
<span class="x a cn" style="left:687.00px;top:1348px;font-size:15px;line-height:17px;transform:scaleX(0.9961);">Шайба 8</span>
<span class="x a cn" style="left:687.11px;top:1365px;font-size:15px;line-height:17px;">Шайба 10</span>
<span class="x a cn" style="left:687.10px;top:1382px;font-size:15px;line-height:17px;transform:scaleX(1.0100);">Втулка 10 мм</span>
<span class="x a cn" style="left:687.98px;top:1398px;font-size:15px;line-height:17px;transform:scaleX(1.0320);">Экран</span>
<span class="x a cq" style="left:911.57px;top:1317px;font-size:15px;line-height:17px;transform:scaleX(1.0430);">2 шт.</span>
<span class="x a cq" style="left:911.57px;top:1334px;font-size:15px;line-height:17px;transform:scaleX(1.0430);">2 шт.</span>
<span class="x a cq" style="left:911.57px;top:1351px;font-size:15px;line-height:17px;transform:scaleX(1.0430);">2 шт.</span>
<span class="x a cq" style="left:911.57px;top:1368px;font-size:15px;line-height:17px;transform:scaleX(1.0430);">2 шт.</span>
<span class="x a cq" style="left:911.57px;top:1384px;font-size:15px;line-height:17px;transform:scaleX(1.0430);">2 шт.</span>
<span class="x a cq" style="left:913.00px;top:1401px;font-size:15px;line-height:17px;">1 шт.</span>
<span class="x a cm" style="left:1026.00px;top:1316px;font-size:15px;line-height:17px;transform:scaleX(1.0041);">49 Нм</span>
<span class="x a cm" style="left:1025.27px;top:1333px;font-size:15px;line-height:17px;transform:scaleX(1.0427);">24 Нм</span>
<span class="x t ft" style="left:55.42px;top:1580px;font-size:20px;line-height:24px;transform:scaleX(0.9681);">Производитель вправе вносить изменения в конструкцию защиты.</span>
<span class="x t ft" style="left:57.03px;top:1604px;font-size:20px;line-height:24px;transform:scaleX(0.9702);white-space:pre">Техническая поддержка:  e-mail:</span>
<a class="x t ft lk" style="left:365.82px;top:1604px;font-size:20px;line-height:24px;font-weight:700;transform:scaleX(1.0051);color:#0000c8">supp@rivalauto.com</a>
<span class="x t ft" style="left:572.35px;top:1604px;font-size:20px;line-height:24px;transform:scaleX(1.5979);color:#0000c8">;</span>
<span class="x t ft" style="left:585.04px;top:1604px;font-size:20px;line-height:24px;transform:scaleX(0.9897);">Телефон</span>
<span class="x t ft" style="left:664.91px;top:1604px;font-size:20px;line-height:24px;font-weight:700;transform:scaleX(1.0450);">: 8-800-555-60-43</span>
</body></html>
